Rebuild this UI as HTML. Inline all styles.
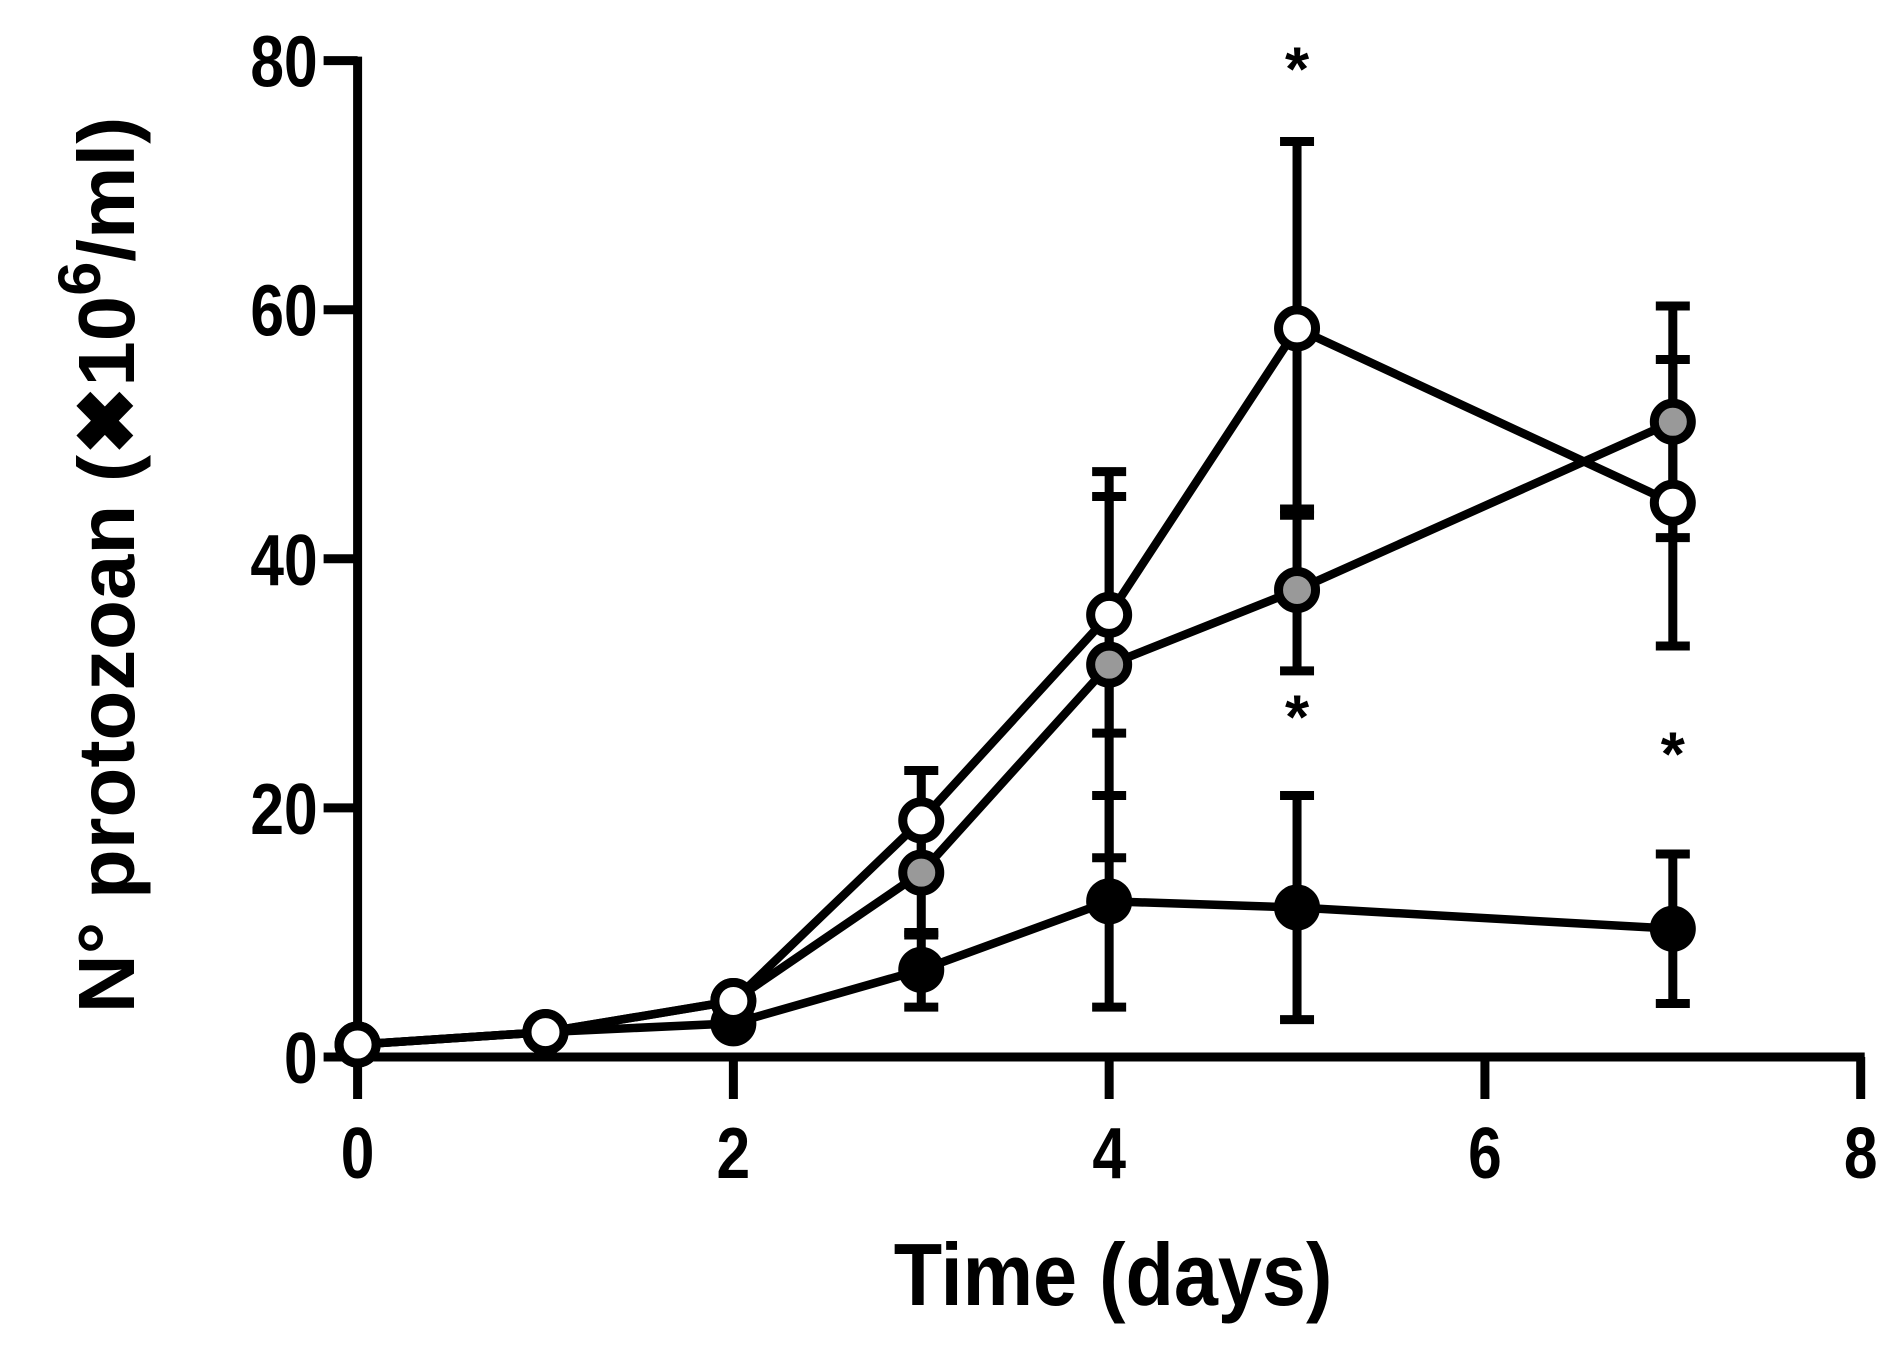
<!DOCTYPE html>
<html><head><meta charset="utf-8"><style>
body{margin:0;background:#fff}
svg{display:block}
text{font-family:"Liberation Sans",sans-serif;font-weight:bold;fill:#000}
</style></head><body>
<svg id="chart" width="1891" height="1346" viewBox="0 0 1891 1346"></svg>
<script>
const days = [0,1,2,3,4,5,7];
const whiteMean = [1,2,4.5,19,35.5,58.5,44.5];
const whiteErr = [0,0,0.5,4,9.5,15,11.5];
const grayMean = [1,2,4.5,14.8,31.5,37.5,51];
const grayErr = [0,0,0.5,5,15.5,6.5,9.3];
const blackMean = [1,2,2.7,7,12.5,12,10.3];
const blackErr = [0,0,0.5,3,8.5,9,6];
const xTicks = [0,2,4,6,8];
const yTicks = [0,20,40,60,80];
const stars = [[5,80],[5,28],[7,25]];

const NS="http://www.w3.org/2000/svg";
const svg=document.getElementById('chart');
const X0=357.6,X1=1860.7,Y0=1057,Y1=60.6;
const sx=v=>X0+(v-0)/(8-0)*(X1-X0);
const sy=v=>Y0-(v/80)*(Y0-Y1);
function mk(t,a,p){const e=document.createElementNS(NS,t);for(const k in a)e.setAttribute(k,a[k]);(p||svg).appendChild(e);return e;}

const axes=mk('g',{});


const ya=mk('line',{x1:X0,y1:Y1-4,x2:X0,y2:Y0+4,stroke:'#000','stroke-width':9},axes);


const xa=mk('line',{x1:X0-4,y1:Y0,x2:X1+4,y2:Y0,stroke:'#000','stroke-width':9},axes);


yTicks.forEach(v=>{
  const l=mk('line',{x1:X0-34,y1:sy(v),x2:X0,y2:sy(v),stroke:'#000','stroke-width':9},axes);
  
  
  const t=mk('text',{x:0,y:0,'font-size':72,'text-anchor':'end',transform:`translate(${X0-40},${sy(v)+26}) scale(0.84,1)`},axes);
  t.textContent=v;
  
  
});
xTicks.forEach(v=>{
  const l=mk('line',{x1:sx(v),y1:Y0,x2:sx(v),y2:Y0+42,stroke:'#000','stroke-width':9},axes);
  
  
  const t=mk('text',{x:0,y:0,'font-size':72,'text-anchor':'middle',transform:`translate(${sx(v)},${1178}) scale(0.84,1)`},axes);
  t.textContent=v;
  
  
});
const xt=mk('text',{x:0,y:0,'font-size':88,'text-anchor':'middle',transform:'translate(1113,1305) scale(0.9,1)'});
xt.textContent='Time (days)';


const yt=mk('text',{x:0,y:0,'font-size':80,'text-anchor':'middle',transform:'translate(134,565) rotate(-90) scale(1.02,1)'});
yt.innerHTML='N° protozoan (✖10<tspan dy="-34" font-size="60">6</tspan><tspan dy="34">/ml)</tspan>';



function series(name,mean,err){
  const g=mk('g',{});
  
  
  days.forEach((d,i)=>{
    if(err[i]>0.6){
      const x=sx(d),a=sy(mean[i]+err[i]),b=sy(mean[i]-err[i]);
      const e=mk('path',{d:`M${x},${a}V${b}M${x-17},${a}H${x+17}M${x-17},${b}H${x+17}`,stroke:'#000','stroke-width':9,fill:'none'},g);
      
      
    }
  });
  const p=mk('polyline',{points:days.map((d,i)=>sx(d)+','+sy(mean[i])).join(' '),stroke:'#000','stroke-width':8.5,fill:'none'},g);
  
  
  return g;
}
function markers(name,mean,fill){
  days.forEach((d,i)=>{
    const c=mk('circle',{cx:sx(d),cy:sy(mean[i]),r:18.5,fill:fill,stroke:'#000','stroke-width':9});
    
    
  });
}
series('black',blackMean,blackErr);
series('gray',grayMean,grayErr);
series('white',whiteMean,whiteErr);
markers('black',blackMean,'#000');
markers('gray',grayMean,'#999');
markers('white',whiteMean,'#fff');
stars.forEach(s=>{
  const t=mk('text',{x:sx(s[0]),y:sy(s[1])+30,'font-size':62,'font-weight':'normal','text-anchor':'middle'});
  t.textContent='*';
  
  
});
</script>
</body></html>
